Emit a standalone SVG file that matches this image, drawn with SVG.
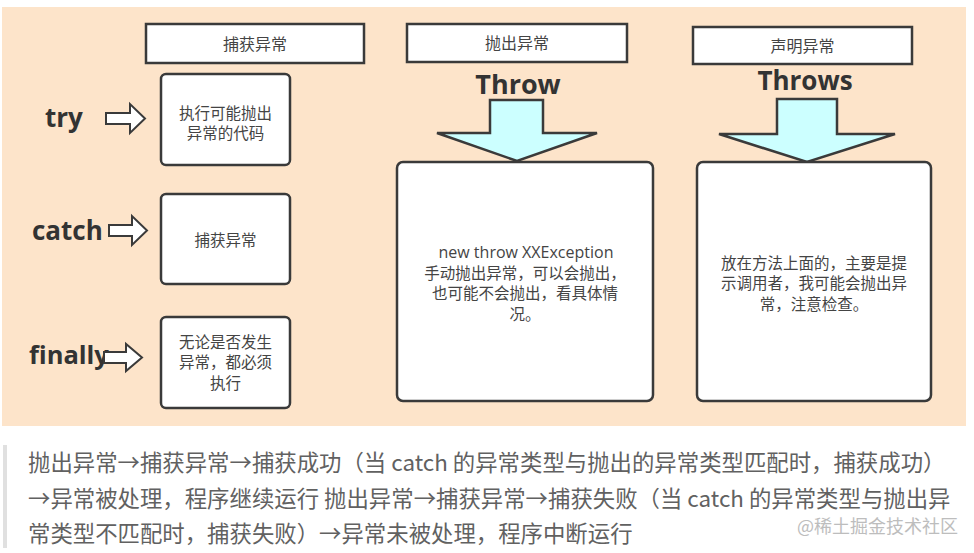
<svg xmlns="http://www.w3.org/2000/svg" width="974" height="553" viewBox="0 0 974 553">
<style>
.box{fill:#fff;stroke:#3a3a3a;stroke-width:2.5}
.hdr{fill:#fff;stroke:#3a3a3a;stroke-width:2.5}
.sm{fill:#fff;stroke:#3a3a3a;stroke-width:2}
.big{fill:#ccffff;stroke:#3a3a3a;stroke-width:2.5;stroke-linejoin:miter}
.t{font-family:"Open Sans","Noto Sans CJK SC",sans-serif;font-size:15.5px;fill:#444;text-anchor:middle}
.h{font-family:"Noto Sans CJK SC",sans-serif;font-size:16px;fill:#444;text-anchor:middle}
.kw{font-family:"Open Sans","Noto Sans",sans-serif;font-weight:bold;font-size:26px;fill:#333}
.foot{font-family:"Noto Sans CJK SC",sans-serif;font-size:22.4px;fill:#616161}
</style>
<rect x="0" y="0" width="974" height="553" fill="#fff"/>
<rect x="2" y="7" width="964" height="419" fill="#fde4ca"/>

<g id="hdr-catch"><rect class="hdr" x="146" y="24" width="218" height="39"/><text class="h" x="255" y="49.5">捕获异常</text></g>
<g id="hdr-throw"><rect class="hdr" x="407" y="24" width="220" height="38"/><text class="h" x="517" y="49">抛出异常</text></g>
<g id="hdr-throws"><rect class="hdr" x="693" y="27" width="219" height="37"/><text class="h" x="802.5" y="51.5">声明异常</text></g>

<g id="lbl-try"><text class="kw" x="45" y="127">try</text></g>
<g id="lbl-catch"><text class="kw" x="32" y="240">catch</text></g>
<g id="lbl-finally"><text class="kw" x="29" y="364" style="font-size:25.5px">finally</text></g>
<g id="lbl-Throw"><text class="kw" x="518" y="94" text-anchor="middle" style="font-size:27px">Throw</text></g>
<g id="lbl-Throws"><text class="kw" x="805" y="90" text-anchor="middle" style="font-size:26px">Throws</text></g>

<g id="connectors">
<path class="sm" d="M106,113 L130,113 L130,104 L145,118.5 L130,133 L130,124 L106,124 Z"/>
<path class="sm" d="M109,225 L132,225 L132,216 L147,230.5 L132,245 L132,236 L109,236 Z"/>
<path class="sm" d="M104,352 L126,352 L126,344 L142,357.5 L126,371 L126,363 L104,363 Z"/>
<path class="big" d="M490,100 L543,100 L543,133 L597,133 L517,161 L437,133 L490,133 Z"/>
<path class="big" d="M777,99 L837,99 L837,134 L895,134 L807,162 L719,134 L777,134 Z"/>
</g>

<g id="box-try"><rect class="box" x="161" y="74" width="129" height="91" rx="5"/>
<text class="t" x="225.5" y="118.5">执行可能抛出</text><text class="t" x="225.5" y="139">异常的代码</text></g>
<g id="box-catch"><rect class="box" x="161" y="194" width="129" height="90" rx="5"/>
<text class="t" x="225.5" y="246">捕获异常</text></g>
<g id="box-finally"><rect class="box" x="161" y="317" width="129" height="91" rx="5"/>
<text class="t" x="225.5" y="347.5">无论是否发生</text><text class="t" x="225.5" y="368">异常，都必须</text><text class="t" x="225.5" y="388.5">执行</text></g>
<g id="box-throw"><rect class="box" x="397" y="162" width="256" height="239" rx="6"/>
<text class="t" x="526" y="258" style="font-size:16px">new throw XXException</text>
<text class="t" x="525" y="278.5">手动抛出异常，可以会抛出，</text>
<text class="t" x="525" y="299">也可能不会抛出，看具体情</text>
<text class="t" x="525" y="319.5">况。</text></g>
<g id="box-throws"><rect class="box" x="697" y="162" width="234" height="239" rx="6"/>
<text class="t" x="814" y="268.5">放在方法上面的，主要是提</text>
<text class="t" x="814" y="289">示调用者，我可能会抛出异</text>
<text class="t" x="814" y="309.5">常，注意检查。</text></g>

<g id="footer">
<rect x="3" y="445" width="4" height="103" fill="#e0e0e0"/>
<text class="foot" x="28" y="471">抛出异常→捕获异常→捕获成功（当 catch 的异常类型与抛出的异常类型匹配时，捕获成功）</text>
<text class="foot" x="28" y="507">→异常被处理，程序继续运行 抛出异常→捕获异常→捕获失败（当 catch 的异常类型与抛出异</text>
<text class="foot" x="28" y="542">常类型不匹配时，捕获失败）→异常未被处理，程序中断运行</text>
<text x="797" y="533" style="font-family:'Noto Sans CJK SC',sans-serif;font-size:18px;fill:#bdbdbd">@稀土掘金技术社区</text>
</g>
</svg>
